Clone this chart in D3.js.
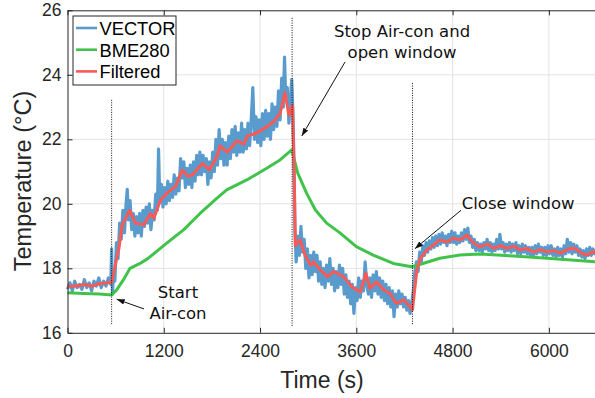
<!DOCTYPE html>
<meta charset="utf-8">
<style>
  body { margin: 0; background: #fff; }
  .grid line { stroke: #e3e3e3; stroke-width: 1; }
  .axis path, .axis line { stroke: #262626; stroke-width: 1; }
  .axis text { fill: #262626; font-family: "Liberation Sans", Arial, sans-serif; font-size: 17.5px; }
  .note { font-family: "DejaVu Sans", Verdana, sans-serif; font-size: 16.5px; fill: #111; }
</style>
<svg width="595" height="398"></svg>
<script src="https://d3js.org/d3.v7.min.js"></script>
<script>

  // tick values
  var xTicks = [0, 1200, 2400, 3600, 4800, 6000];
  var yTicks = [16, 18, 20, 22, 24, 26];

  // raw sensor (noisy), [time s, temp C]
  var vector = [
    [0, 17.35], [30, 17.55], [60, 17.3], [90, 17.6], [120, 17.4], [150, 17.5], [180, 17.35], [210, 17.65],
    [240, 17.4], [270, 17.55], [300, 17.3], [330, 17.6], [360, 17.45], [390, 17.7], [420, 17.4], [450, 17.6],
    [480, 17.45], [510, 17.7], [540, 17.5], [550, 18.6], [560, 17.2], [575, 17.9], [590, 17.6],
    [610, 18.8], [630, 18.3], [650, 19.4], [670, 18.9], [690, 19.8], [710, 19.1], [730, 20.0], [745, 20.45],
    [760, 19.5], [780, 20.1], [800, 19.2], [820, 19.7], [840, 19.0], [860, 19.6], [880, 19.1], [900, 19.7],
    [920, 19.0], [940, 19.8], [960, 19.3], [980, 19.9], [1000, 19.4], [1020, 20.0], [1040, 19.2], [1060, 19.8],
    [1080, 19.5], [1100, 20.3], [1120, 19.8], [1135, 21.7], [1150, 20.1], [1170, 20.6], [1190, 19.9], [1210, 20.5],
    [1230, 20.0], [1250, 20.7], [1270, 20.1], [1290, 20.6], [1310, 20.2], [1330, 20.9], [1350, 20.3], [1370, 20.8],
    [1390, 20.4], [1410, 21.4], [1430, 20.8], [1450, 21.3], [1470, 20.5], [1490, 21.1], [1510, 20.6], [1530, 21.2],
    [1550, 20.5], [1570, 21.3], [1590, 20.7], [1610, 21.5], [1630, 20.9], [1650, 21.6], [1670, 20.9], [1690, 21.5],
    [1710, 21.0], [1730, 21.4], [1750, 20.6], [1770, 21.3], [1790, 20.8], [1810, 21.6], [1830, 21.0], [1850, 22.0],
    [1870, 21.2], [1890, 22.3], [1910, 21.4], [1930, 22.0], [1950, 21.2], [1970, 21.9], [1990, 21.2], [2010, 22.1],
    [2030, 21.4], [2050, 22.3], [2070, 21.6], [2090, 22.4], [2110, 21.5], [2130, 22.2], [2150, 21.6], [2170, 22.5],
    [2190, 21.6], [2210, 22.3], [2230, 21.7], [2250, 22.5], [2270, 21.8], [2290, 22.6], [2310, 23.6], [2330, 22.0],
    [2350, 22.7], [2370, 21.9], [2390, 22.6], [2410, 21.8], [2430, 22.8], [2450, 22.0], [2470, 22.9], [2490, 22.1],
    [2510, 22.8], [2530, 22.0], [2550, 23.1], [2570, 22.3], [2590, 23.0], [2610, 22.4], [2630, 23.5], [2650, 22.6],
    [2670, 23.9], [2690, 23.0], [2705, 24.55], [2720, 23.2], [2740, 23.6], [2760, 22.5], [2780, 23.3], [2795, 23.85],
    [2810, 22.8], [2825, 21.0], [2835, 19.2], [2850, 18.2], [2870, 19.0], [2890, 18.4], [2910, 19.3], [2930, 18.5],
    [2950, 18.9], [2970, 18.0], [2990, 18.6], [3010, 17.7], [3030, 18.4], [3050, 17.8], [3070, 18.5], [3090, 17.9],
    [3110, 18.4], [3130, 17.6], [3150, 18.2], [3170, 17.5], [3190, 18.0], [3210, 17.4], [3230, 18.1], [3250, 17.6],
    [3270, 18.3], [3290, 17.5], [3310, 18.0], [3330, 17.3], [3350, 17.9], [3370, 17.4], [3390, 18.1], [3410, 17.5],
    [3430, 18.0], [3450, 17.2], [3470, 17.8], [3490, 17.1], [3510, 17.6], [3530, 16.9], [3550, 17.5], [3570, 16.6],
    [3590, 17.4], [3610, 17.0], [3630, 17.7], [3650, 17.1], [3670, 17.6], [3690, 17.3], [3710, 18.2], [3730, 17.5],
    [3750, 17.2], [3770, 17.7], [3790, 17.1], [3810, 17.8], [3830, 17.3], [3850, 17.9], [3870, 17.2], [3890, 17.7],
    [3910, 17.1], [3930, 17.6], [3950, 17.0], [3970, 17.5], [3990, 16.9], [4010, 17.4], [4030, 16.8], [4050, 17.3],
    [4070, 16.5], [4090, 17.2], [4110, 16.8], [4130, 17.3], [4150, 16.9], [4170, 17.2], [4190, 16.8], [4210, 17.1],
    [4230, 16.7], [4250, 17.0], [4270, 16.6], [4290, 16.9], [4310, 17.3], [4330, 17.9], [4350, 18.2], [4370, 17.9],
    [4390, 18.5], [4410, 18.2], [4430, 18.7], [4450, 18.4], [4470, 18.8], [4490, 18.5], [4510, 18.85], [4530, 18.6],
    [4550, 18.95], [4570, 18.65], [4590, 19.0], [4610, 18.7], [4630, 19.05], [4650, 18.75], [4670, 19.1], [4690, 18.8],
    [4710, 19.0], [4730, 18.7], [4750, 19.05], [4770, 18.8], [4790, 19.15], [4810, 18.8], [4830, 19.1], [4850, 18.75],
    [4870, 19.0], [4890, 18.8], [4910, 19.1], [4930, 18.85], [4950, 19.2], [4970, 18.9], [4990, 19.25], [5010, 18.8],
    [5030, 19.0], [5050, 18.65], [5070, 18.9], [5090, 18.55], [5110, 18.8], [5130, 18.55], [5150, 18.75], [5170, 18.5],
    [5190, 18.8], [5210, 18.6], [5230, 18.9], [5250, 18.55], [5270, 18.8], [5290, 18.5], [5310, 18.75], [5330, 18.55],
    [5350, 18.9], [5370, 18.6], [5390, 19.05], [5410, 18.6], [5430, 18.8], [5450, 18.5], [5470, 18.75], [5490, 18.55],
    [5510, 18.8], [5530, 18.5], [5550, 18.75], [5570, 18.55], [5590, 18.8], [5610, 18.45], [5630, 18.7], [5650, 18.45],
    [5670, 18.75], [5690, 18.5], [5710, 18.7], [5730, 18.45], [5750, 18.65], [5770, 18.4], [5790, 18.65], [5810, 18.4],
    [5830, 18.7], [5850, 18.45], [5870, 18.75], [5890, 18.5], [5910, 18.65], [5930, 18.4], [5950, 18.65], [5970, 18.4],
    [5990, 18.7], [6010, 18.45], [6030, 18.7], [6050, 18.4], [6070, 18.6], [6090, 18.35], [6110, 18.65], [6130, 18.4],
    [6150, 18.6], [6170, 18.35], [6190, 18.7], [6210, 18.45], [6230, 18.9], [6250, 18.5], [6270, 18.8], [6290, 18.45],
    [6310, 18.75], [6330, 18.5], [6350, 18.7], [6370, 18.4], [6390, 18.6], [6410, 18.35], [6430, 18.55], [6450, 18.3],
    [6470, 18.6], [6490, 18.4], [6510, 18.65], [6530, 18.4], [6550, 18.6], [6570, 18.45], [6600, 18.55]
  ];

  // reference sensor
  var bme280 = [
    [0, 17.24], [200, 17.22], [400, 17.2], [550, 17.17], [613, 17.33], [696, 17.64], [779, 18.0],
    [904, 18.15], [1000, 18.3], [1237, 18.78], [1450, 19.2], [1652, 19.7], [1860, 20.17], [1984, 20.43],
    [2234, 20.74], [2483, 21.1], [2649, 21.36], [2795, 21.67], [2870, 20.95], [2980, 20.33], [3090, 19.81],
    [3230, 19.4], [3400, 19.09], [3600, 18.67], [3810, 18.41], [4060, 18.15], [4290, 18.05], [4430, 18.15],
    [4640, 18.31], [4890, 18.41], [5140, 18.44], [5560, 18.38], [5980, 18.31], [6600, 18.2]
  ];

  // filtered VECTOR
  var filtered = [
    [0, 17.43], [100, 17.45], [200, 17.5], [300, 17.45], [400, 17.52], [500, 17.55], [550, 17.55],
    [570, 17.8], [630, 18.5], [640, 18.6], [680, 19.34], [775, 19.8], [845, 19.4], [950, 19.35],
    [1035, 19.7], [1077, 19.55], [1160, 20.12], [1240, 20.33], [1350, 20.55], [1430, 21.05], [1500, 20.85],
    [1560, 20.9], [1680, 21.25], [1770, 21.05], [1870, 21.5], [1900, 21.8], [1990, 21.6], [2110, 21.95],
    [2200, 21.85], [2240, 22.1], [2360, 22.2], [2490, 22.4], [2570, 22.55], [2650, 22.8], [2710, 23.45],
    [2760, 22.75], [2805, 23.05], [2825, 21.0], [2840, 18.7], [2900, 18.88], [2960, 18.41], [3030, 18.1],
    [3070, 18.2], [3150, 17.95], [3240, 17.74], [3320, 17.9], [3440, 17.74], [3540, 17.43], [3650, 17.27],
    [3720, 17.85], [3770, 17.38], [3855, 17.58], [3940, 17.33], [4020, 17.22], [4100, 16.91], [4190, 17.02],
    [4270, 16.81], [4300, 16.71], [4355, 17.95], [4400, 18.31], [4480, 18.57], [4560, 18.72], [4640, 18.88],
    [4730, 18.82], [4810, 18.93], [4890, 18.88], [4980, 19.03], [5060, 18.78], [5140, 18.67], [5240, 18.75],
    [5310, 18.62], [5400, 18.7], [5480, 18.62], [5560, 18.68], [5640, 18.57], [5720, 18.62], [5810, 18.51],
    [5890, 18.58], [5980, 18.51], [6060, 18.55], [6150, 18.47], [6240, 18.6], [6320, 18.62], [6400, 18.48],
    [6480, 18.41], [6550, 18.52], [6600, 18.45]
  ];

  // event markers: time, bottom, top
  var events = [[550, 16.27, 23.25], [2800, 16.21, 25.8], [4300, 16.27, 23.75]];

  var seriesNames = ["VECTOR", "BME280", "Filtered"];
  var seriesColors = ["#5a9bcd", "#41c34b", "#fa5a55"];

  var svg = d3.select("svg");

  var x = d3.scaleLinear().domain([0, 6600]).range([67.5, 597]);
  var y = d3.scaleLinear().domain([16, 26]).range([332.8, 10.3]);

  // grid
  var grid = svg.append("g").attr("class", "grid");
  grid.selectAll(".gx").data(xTicks.slice(1)).enter().append("line")
    .attr("x1", d => x(d)).attr("x2", d => x(d))
    .attr("y1", y(16)).attr("y2", y(26));
  grid.selectAll(".gy").data(yTicks.slice(1, -1)).enter().append("line")
    .attr("x1", x(0)).attr("x2", 595)
    .attr("y1", d => y(d)).attr("y2", d => y(d));

  var line = d3.line().x(d => x(d[0])).y(d => y(d[1]));

  [vector, bme280, filtered].forEach(function (data, i) {
    svg.append("path")
      .datum(data)
      .attr("fill", "none")
      .attr("stroke", seriesColors[i])
      .attr("stroke-width", i == 0 ? 3.2 : 3)
      .attr("stroke-linejoin", "round")
      .attr("d", line);
  });

  // dotted event lines
  svg.selectAll(".event").data(events).enter().append("line")
    .attr("x1", d => x(d[0])).attr("x2", d => x(d[0]))
    .attr("y1", d => y(d[1])).attr("y2", d => y(d[2]))
    .attr("stroke", "#111")
    .attr("stroke-width", 1)
    .attr("stroke-dasharray", "1,1.4");

  // axes (MATLAB style, ticks pointing in)
  svg.append("g").attr("class", "axis")
    .attr("transform", "translate(0," + y(16) + ")")
    .call(d3.axisBottom(x).tickValues(xTicks).tickFormat(d3.format("d"))
      .tickSize(-5).tickSizeOuter(0).tickPadding(12));
  svg.append("g").attr("class", "axis")
    .attr("transform", "translate(0," + y(26) + ")")
    .call(d3.axisTop(x).tickValues(xTicks).tickSize(-5).tickSizeOuter(0).tickFormat(""));
  svg.append("g").attr("class", "axis")
    .attr("transform", "translate(" + x(0) + ",0)")
    .call(d3.axisLeft(y).tickValues(yTicks).tickSize(-5).tickSizeOuter(0).tickPadding(6));

  svg.append("text")
    .attr("x", 322).attr("y", 388)
    .attr("text-anchor", "middle")
    .attr("font-family", "Liberation Sans, Arial, sans-serif")
    .attr("font-size", 23)
    .attr("fill", "#262626")
    .text("Time (s)");

  svg.append("text")
    .attr("transform", "translate(31,181) rotate(-90)")
    .attr("text-anchor", "middle")
    .attr("font-family", "Liberation Sans, Arial, sans-serif")
    .attr("font-size", 23.5)
    .attr("fill", "#262626")
    .text("Temperature (°C)");

  // annotations
  var defs = svg.append("defs");
  defs.append("marker")
    .attr("id", "head")
    .attr("viewBox", "0 0 10 10")
    .attr("refX", 10).attr("refY", 5)
    .attr("markerWidth", 8).attr("markerHeight", 8)
    .attr("orient", "auto")
    .append("path").attr("d", "M0,1.5 L10,5 L0,8.5 Z").attr("fill", "#111");

  var notes = [
    { lines: ["Start", "Air-con"], t: 1377, v: [17.08, 16.43], from: [954, 16.74], to: [613, 17.04] },
    { lines: ["Stop Air-con and", "open window"], t: 4170, v: [25.17, 24.52], from: [3460, 24.4], to: [2920, 22.1] },
    { lines: ["Close window"], t: 5617, v: [19.83], from: [4905, 19.8], to: [4331, 18.61] }
  ];

  notes.forEach(function (n) {
    n.lines.forEach(function (s, i) {
      svg.append("text").attr("class", "note")
        .attr("x", x(n.t)).attr("y", y(n.v[i]))
        .attr("text-anchor", "middle")
        .text(s);
    });
    svg.append("line")
      .attr("x1", x(n.from[0])).attr("y1", y(n.from[1]))
      .attr("x2", x(n.to[0])).attr("y2", y(n.to[1]))
      .attr("stroke", "#111").attr("stroke-width", 1)
      .attr("marker-end", "url(#head)");
  });

  // legend
  var lg = svg.append("g").attr("transform", "translate(73,16)");
  lg.append("rect")
    .attr("width", 103).attr("height", 69)
    .attr("fill", "#fff").attr("stroke", "#262626").attr("stroke-width", 1);
  seriesNames.forEach(function (name, i) {
    var yy = 12 + i * 21.7;
    lg.append("line")
      .attr("x1", 3).attr("x2", 24).attr("y1", yy).attr("y2", yy)
      .attr("stroke", seriesColors[i]).attr("stroke-width", 2.6);
    lg.append("text")
      .attr("x", 26.5).attr("y", yy + 7)
      .attr("font-family", "Liberation Sans, Arial, sans-serif")
      .attr("font-size", 18.3)
      .attr("fill", "#000")
      .text(name);
  });

</script>
